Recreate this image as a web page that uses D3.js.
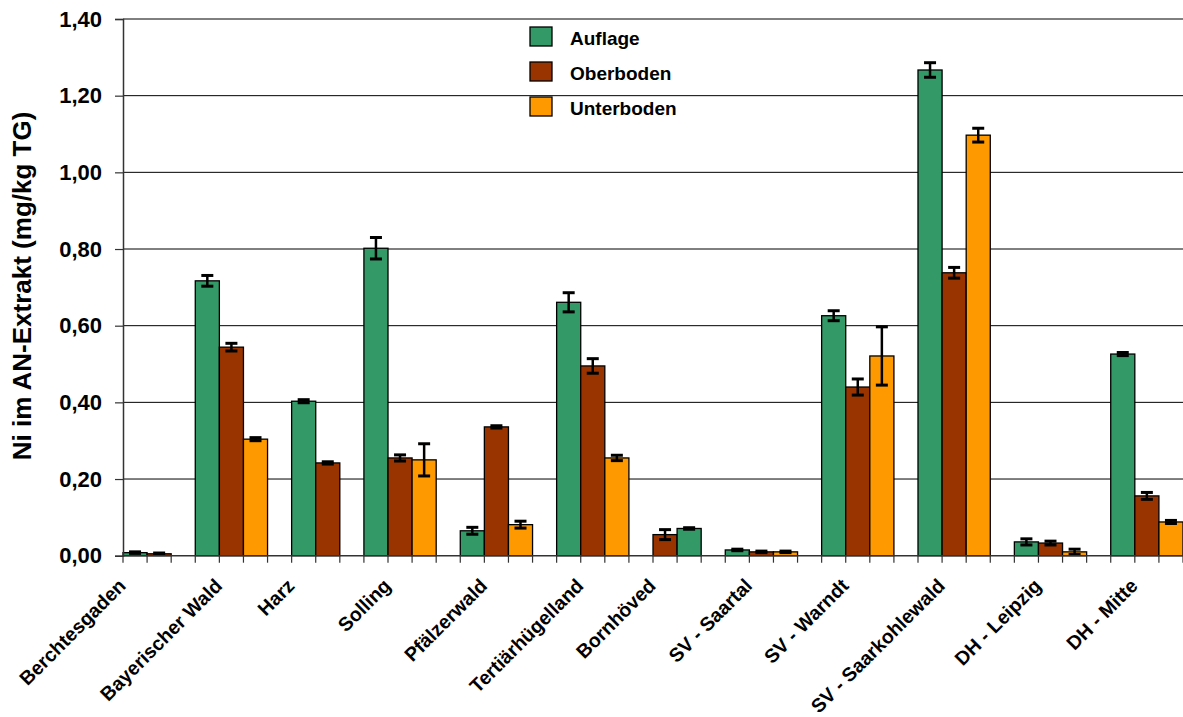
<!DOCTYPE html>
<html>
<head>
<meta charset="utf-8">
<script src="https://cdn.jsdelivr.net/npm/d3@7"></script>
<style>
  html, body { margin: 0; padding: 0; background: #fff; }
  svg { display: block; font-family: "Liberation Sans", Arial, sans-serif; }
</style>
</head>
<body>
<svg id="chart" width="1183" height="717"></svg>
<script>
// ---- Data ----
const categories = ["Berchtesgaden", "Bayerischer Wald", "Harz", "Solling", "Pfälzerwald",
  "Tertiärhügelland", "Bornhöved", "SV - Saartal", "SV - Warndt", "SV - Saarkohlewald",
  "DH - Leipzig", "DH - Mitte"];
const seriesNames = ["Auflage", "Oberboden", "Unterboden"];
const auflage       = [0.008, 0.717, 0.403, 0.802, 0.065, 0.661, 0.071, 0.015, 0.626, 1.267, 0.036, 0.526];
const auflageErr    = [0.002, 0.014, 0.004, 0.028, 0.009, 0.025, 0.002, 0.002, 0.013, 0.019, 0.008, 0.004];
const oberboden     = [0.005, 0.544, 0.242, 0.255, 0.336, 0.495, 0.055, 0.010, 0.440, 0.738, 0.033, 0.156];
const oberbodenErr  = [0.002, 0.010, 0.003, 0.008, 0.003, 0.019, 0.013, 0.002, 0.021, 0.014, 0.005, 0.009];
const unterboden    = [null, 0.304, null, 0.250, 0.081, 0.255, null, 0.010, 0.521, 1.097, 0.010, 0.088];
const unterbodenErr = [null, 0.004, null, 0.042, 0.009, 0.007, null, 0.002, 0.076, 0.018, 0.007, 0.004];
const yTicks = [0, 0.2, 0.4, 0.6, 0.8, 1.0, 1.2, 1.4];
// bar order inside a category (default: series order)
const categoryBarOrder = { "Bornhöved": ["Oberboden", "Auflage"] };

const values = { "Auflage": auflage, "Oberboden": oberboden, "Unterboden": unterboden };
const errors = { "Auflage": auflageErr, "Oberboden": oberbodenErr, "Unterboden": unterbodenErr };
const colors = { "Auflage": "#339966", "Oberboden": "#993300", "Unterboden": "#FF9900" };

// ---- Layout: each present bar takes a slot, one empty slot between groups ----
const bars = [];
const labels = [];
let slot = 0;
categories.forEach((cat, i) => {
  const order = (categoryBarOrder[cat] || seriesNames).filter(s => values[s][i] != null);
  const start = slot;
  order.forEach(s => {
    bars.push({ cat, series: s, slot, value: values[s][i], err: errors[s][i] });
    slot++;
  });
  labels.push({ cat, slot: start + Math.floor((order.length - 1) / 2) });
  if (i < categories.length - 1) slot++;
});
const nSlots = slot;

const svg = d3.select("#chart");
const mLeft = 123, mRight = 1183, mTop = 19, mBottom = 555.7;

const x = d3.scaleBand().domain(d3.range(nSlots)).range([mLeft, mRight]).padding(0);
const y = d3.scaleLinear().domain([0, 1.4]).range([mBottom, mTop]);

// gridlines
svg.append("g").selectAll("line").data(yTicks.filter(t => t > 0)).join("line")
  .attr("x1", mLeft).attr("x2", mRight)
  .attr("y1", d => y(d)).attr("y2", d => y(d))
  .attr("stroke", "#000").attr("stroke-width", 1);

// bars
svg.append("g").selectAll("rect").data(bars).join("rect")
  .attr("x", d => x(d.slot))
  .attr("width", x.bandwidth())
  .attr("y", d => y(d.value))
  .attr("height", d => y(0) - y(d.value))
  .attr("fill", d => colors[d.series])
  .attr("stroke", "#000").attr("stroke-width", 1.3);

// error bars
const eb = svg.append("g").attr("stroke", "#000");
bars.forEach(d => {
  const cx = x(d.slot) + x.bandwidth() / 2;
  const y1 = y(d.value + d.err), y2 = y(Math.max(0, d.value - d.err));
  eb.append("line").attr("x1", cx).attr("x2", cx).attr("y1", y1).attr("y2", y2).attr("stroke-width", 2.5);
  [y1, y2].forEach(yy => eb.append("line")
    .attr("x1", cx - 6).attr("x2", cx + 6).attr("y1", yy).attr("y2", yy).attr("stroke-width", 3));
});

// y axis
const yAxis = d3.axisLeft(y).tickValues(yTicks).tickSize(8).tickPadding(13)
  .tickFormat(d => d3.format(".2f")(d).replace(".", ","));
const gy = svg.append("g").attr("transform", `translate(${mLeft},0)`).call(yAxis);
gy.select(".domain").attr("stroke", "#333").attr("stroke-width", 1.5);
gy.selectAll(".tick line").attr("stroke", "#333").attr("stroke-width", 1.2);
gy.selectAll(".tick text").attr("font-size", 22).attr("font-weight", "bold")
  .attr("fill", "#000").attr("font-family", "Liberation Sans, Arial, sans-serif");

// x axis with ticks at every slot boundary
const gx = svg.append("g");
gx.append("line").attr("x1", mLeft).attr("x2", mRight).attr("y1", mBottom).attr("y2", mBottom)
  .attr("stroke", "#333").attr("stroke-width", 1.5);
gx.selectAll("line.t").data(d3.range(nSlots + 1)).join("line").attr("class", "t")
  .attr("x1", d => mLeft + d * x.step()).attr("x2", d => mLeft + d * x.step())
  .attr("y1", mBottom).attr("y2", mBottom + 7)
  .attr("stroke", "#333").attr("stroke-width", 1.2);
gx.selectAll("text").data(labels).join("text")
  .attr("transform", d => `translate(${x(d.slot) + x.bandwidth() / 2 - 8},587) rotate(-45)`)
  .attr("text-anchor", "end")
  .attr("font-size", 19.5).attr("font-weight", "bold").attr("fill", "#000")
  .text(d => d.cat);

// y title
svg.append("text")
  .attr("transform", "translate(31,286) rotate(-90)")
  .attr("text-anchor", "middle")
  .attr("font-size", 26).attr("font-weight", "bold")
  .text("Ni im AN-Extrakt (mg/kg TG)");

// legend
const legend = svg.append("g");
const legendY = [37, 72, 107];
seriesNames.forEach((s, i) => {
  legend.append("rect").attr("x", 530).attr("y", legendY[i] - 10).attr("width", 22).attr("height", 19)
    .attr("fill", colors[s]).attr("stroke", "#000").attr("stroke-width", 1.3);
  legend.append("text").attr("x", 570).attr("y", legendY[i] + 8)
    .attr("font-size", 19).attr("font-weight", "bold").text(s);
});
</script>
</body>
</html>
